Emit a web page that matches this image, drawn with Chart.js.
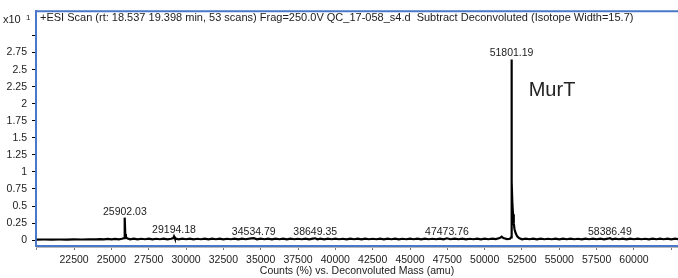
<!DOCTYPE html>
<html><head><meta charset="utf-8">
<script src="https://cdn.jsdelivr.net/npm/chart.js@4/dist/chart.umd.min.js"></script>
<style>html,body{margin:0;padding:0;background:#fff;}canvas{display:block;}</style>
</head><body>
<canvas id="c" width="678" height="278"></canvas>
<script>
const titleText = "+ESI Scan (rt: 18.537 19.398 min, 53 scans) Frag=250.0V QC_17-058_s4.d  Subtract Deconvoluted (Isotope Width=15.7)";
const xAxisTitle = "Counts (%) vs. Deconvoluted Mass (amu)";
const yScaleLabel = "x10";
const yScaleExp = "1";
const proteinLabel = "MurT";

const masses = [
20000,20500,21000,21500,22000,22500,23000,23500,24000,24250,
24500,24750,25000,25250,25500,25700,25850,25880,25902,25930,
25970,26050,26250,26500,26750,27000,27250,27500,27750,28000,
28250,28500,28750,29000,29150,29194,29250,29500,29750,30000,
30250,30500,30750,31000,31250,31500,31750,32000,32250,32500,
32750,33000,33250,33500,33750,34000,34250,34535,34750,35000,
35250,35500,35750,36000,36250,36500,36750,37000,37250,37500,
37750,38000,38250,38500,38649,38800,39000,39250,39500,39750,
40000,40250,40500,40750,41000,41250,41500,41750,42000,42250,
42500,42750,43000,43250,43500,43750,44000,44250,44500,44750,
45000,45250,45500,45750,46000,46250,46500,46750,47000,47250,
47474,47700,48000,48250,48500,48750,49000,49250,49500,49750,
50000,50250,50500,50750,51000,51140,51250,51500,51700,51770,
51790,51801,51815,51830,51860,51900,51950,52000,52080,52180,
52300,52500,52750,53000,53250,53500,53750,54000,54250,54500,
54750,55000,55250,55500,55750,56000,56250,56500,56750,57000,
57250,57500,57750,58000,58250,58386,58550,58750,59000,59250,
59500,59750,60000,60250,60500,60750,61000,61250,61500,61750,
62000,62250,62500,62750,63000
];
const counts = [
0.008,0.009,0.008,0.009,0.008,0.010,0.009,0.010,0.011,0.016,
0.011,0.018,0.012,0.019,0.012,0.020,0.030,0.120,0.330,0.090,
0.045,0.026,0.012,0.021,0.012,0.020,0.013,0.021,0.012,0.020,
0.013,0.021,0.012,0.020,0.030,0.055,0.026,0.012,0.021,0.013,
0.021,0.012,0.020,0.013,0.022,0.012,0.021,0.013,0.021,0.012,
0.020,0.013,0.022,0.012,0.021,0.013,0.021,0.028,0.012,0.021,
0.013,0.021,0.012,0.022,0.013,0.021,0.012,0.021,0.013,0.020,
0.013,0.022,0.012,0.021,0.027,0.013,0.021,0.012,0.021,0.013,
0.021,0.013,0.020,0.012,0.022,0.013,0.021,0.012,0.021,0.013,
0.020,0.013,0.021,0.012,0.021,0.013,0.022,0.012,0.020,0.013,
0.021,0.013,0.021,0.012,0.021,0.013,0.020,0.013,0.022,0.012,
0.027,0.013,0.021,0.013,0.021,0.012,0.020,0.013,0.022,0.012,
0.021,0.013,0.021,0.014,0.030,0.050,0.030,0.014,0.020,0.040,
1.200,2.650,1.400,0.850,0.520,0.380,0.250,0.160,0.100,0.055,
0.030,0.013,0.021,0.013,0.021,0.012,0.021,0.013,0.020,0.013,
0.022,0.012,0.021,0.013,0.021,0.013,0.020,0.012,0.021,0.013,
0.021,0.013,0.022,0.012,0.021,0.028,0.013,0.021,0.013,0.021,
0.012,0.021,0.013,0.022,0.013,0.020,0.012,0.021,0.013,0.021,
0.013,0.021,0.012,0.021,0.013
];
const peakLabels = ["25902.03","29194.18","34534.79","38649.35","47473.76","51801.19","58386.49"];
const xTickValues = [20000,22500,25000,27500,30000,32500,35000,37500,40000,42500,45000,47500,50000,52500,55000,57500,60000,62500];
const xTickHidden = [20000,62500];
const yTickValues = [0,0.25,0.5,0.75,1,1.25,1.5,1.75,2,2.25,2.5,2.75,3];
const yTickHidden = [3];

const FONT = "'Liberation Sans', Arial, sans-serif";
const BLUE = "#4a78c8";
const TXT = "#222222";

const points = masses.map((m,i)=>({x:m,y:counts[i]}));

const overlay = {
  id:'overlay',
  afterDraw(chart){
    const {ctx, chartArea:a, scales:{x,y}} = chart;
    ctx.save();
    ctx.strokeStyle = BLUE; ctx.lineWidth = 2;
    ctx.beginPath(); ctx.moveTo(a.left, a.top); ctx.lineTo(a.right+2, a.top); ctx.stroke();
    ctx.strokeStyle = "#b8b8b8"; ctx.lineWidth = 1;
    ctx.beginPath(); ctx.moveTo(a.left, a.bottom+1.5); ctx.lineTo(a.right, a.bottom+1.5); ctx.stroke();
    ctx.fillStyle = TXT; ctx.textBaseline = 'middle'; ctx.textAlign = 'left';
    ctx.font = "11px " + FONT;
    ctx.fillText(titleText, a.left + 4, a.top + 7);
    ctx.font = "11px " + FONT;
    ctx.fillText(yScaleLabel, 3, a.top + 9);
    ctx.font = "8px " + FONT;
    ctx.fillText(yScaleExp, 26, a.top + 6);
    ctx.font = "10.5px " + FONT; ctx.textAlign = 'center'; ctx.textBaseline = 'alphabetic';
    peakLabels.forEach(lbl=>{
      const m = parseFloat(lbl);
      let h = 0;
      masses.forEach((mm,i)=>{ if (Math.abs(mm-m) < 80 && counts[i] > h) h = counts[i]; });
      ctx.fillText(lbl, x.getPixelForValue(m), y.getPixelForValue(h) - 3);
    });
    ctx.font = "20px " + FONT; ctx.textAlign = 'left';
    ctx.fillText(proteinLabel, x.getPixelForValue(52950), y.getPixelForValue(2.12));
    ctx.restore();
  }
};

new Chart(document.getElementById('c'), {
  type:'line',
  data:{datasets:[{data:points, borderColor:'#000', borderWidth:2.2, pointRadius:0, tension:0, fill:false}]},
  options:{
    responsive:false, animation:false, devicePixelRatio:1,
    layout:{padding:{top:7,left:0,right:0,bottom:0}},
    plugins:{legend:{display:false}, tooltip:{enabled:false}},
    scales:{
      x:{type:'linear', min:19950, max:62950,
        afterFit(s){ s.height = 32; },
        afterBuildTicks(s){ s.ticks = xTickValues.map(v=>({value:v})); },
        grid:{drawOnChartArea:false, drawTicks:true, tickLength:4, color:'#777'},
        border:{display:true, color:BLUE, width:2},
        ticks:{autoSkip:false, maxRotation:0, padding:4, color:TXT, font:{family:FONT, size:10.5},
          callback:(v)=> xTickHidden.includes(v) ? '' : String(v)},
        title:{display:true, text:xAxisTitle, color:TXT, font:{family:FONT, size:10.5}, padding:{top:0,bottom:1}}
      },
      y:{type:'linear', min:-0.086, max:3.355,
        afterFit(s){ s.width = 36; },
        afterBuildTicks(s){ s.ticks = yTickValues.map(v=>({value:v})); },
        grid:{drawOnChartArea:false, drawTicks:true, tickLength:4, color:'#000'},
        border:{display:true, color:BLUE, width:2},
        ticks:{autoSkip:false, padding:5, color:TXT, font:{family:FONT, size:10.5},
          callback:(v)=> yTickHidden.includes(v) ? '' : String(v)}
      }
    }
  },
  plugins:[overlay]
});
</script>
</body></html>
